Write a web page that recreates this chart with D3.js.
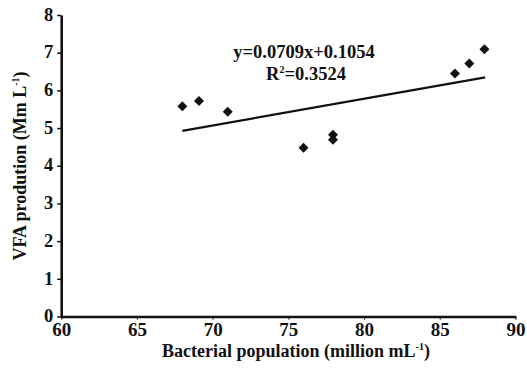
<!DOCTYPE html>
<html><head><meta charset="utf-8">
<script src="https://cdn.jsdelivr.net/npm/d3@7"></script>
<style>body{margin:0;background:#fff}svg{display:block}text{font-family:"Liberation Serif","Times New Roman",serif;font-weight:bold;fill:#111}</style>
</head><body><svg id="c" width="527" height="369"></svg>
<script>
const bacteria = [68.0, 69.1, 71.0, 76.0, 77.95, 77.95, 86.0, 86.95, 87.95];
const vfa = [5.58, 5.72, 5.43, 4.48, 4.82, 4.69, 6.45, 6.71, 7.09];
const slope = 0.0709, intercept = 0.1054;
const trendRange = [68, 88];
const xTicks = [60, 65, 70, 75, 80, 85, 90];
const yTicks = [0, 1, 2, 3, 4, 5, 6, 7, 8];

const svg = d3.select('#c');
const x = d3.scaleLinear().domain([60, 90]).range([61.2, 515.5]);
const y = d3.scaleLinear().domain([0, 8]).range([316.5, 15]);

const xa = svg.append('g').attr('transform', 'translate(0,' + y(0) + ')')
  .call(d3.axisBottom(x).tickValues(xTicks).tickSize(3).tickPadding(3).tickSizeOuter(0));
xa.select('.domain').attr('stroke', '#111').attr('stroke-width', 2.6);
xa.selectAll('line').attr('stroke', '#111').attr('stroke-width', 1.2);
xa.selectAll('text').style('font-size', '19px').attr('fill', '#111');

const ya = svg.append('g').attr('transform', 'translate(' + x(60) + ',0)')
  .call(d3.axisLeft(y).tickValues(yTicks).tickSize(4).tickPadding(4).tickSizeOuter(0));
ya.select('.domain').attr('stroke', '#111').attr('stroke-width', 2.6);
ya.selectAll('line').attr('stroke', '#111').attr('stroke-width', 1.5);
ya.selectAll('text').style('font-size', '18.5px').attr('fill', '#111').attr('dy', '0.28em');

svg.append('line')
  .attr('x1', x(trendRange[0])).attr('y1', y(slope * trendRange[0] + intercept))
  .attr('x2', x(trendRange[1])).attr('y2', y(slope * trendRange[1] + intercept))
  .attr('stroke', '#111').attr('stroke-width', 2.2);

const sym = d3.symbol().type(d3.symbolSquare).size(50);
svg.append('g').selectAll('path').data(bacteria).join('path')
  .attr('d', sym)
  .attr('transform', (d, i) => 'translate(' + x(d) + ',' + y(vfa[i]) + ') rotate(45)')
  .attr('fill', '#111');

const eq = svg.append('g');
eq.append('text').attr('x', 304).attr('y', 58).attr('text-anchor', 'middle')
  .style('font-size', '18.5px').text('y=0.0709x+0.1054');
const r = eq.append('text').attr('x', 306).attr('y', 80).attr('text-anchor', 'middle').style('font-size', '18.5px');
r.append('tspan').text('R');
r.append('tspan').attr('dy', -7).style('font-size', '10px').text('2');
r.append('tspan').attr('dy', 7).text('=0.3524');

const xl = svg.append('text').attr('x', 296).attr('y', 357).attr('text-anchor', 'middle').style('font-size', '18px');
xl.append('tspan').text('Bacterial population (million mL');
xl.append('tspan').attr('dy', -7).style('font-size', '10px').text('-1');
xl.append('tspan').attr('dy', 7).text(')');

const yl = svg.append('text').attr('transform', 'translate(26,166) rotate(-90)').attr('text-anchor', 'middle').style('font-size', '18px');
yl.append('tspan').text('VFA prodution (Mm L');
yl.append('tspan').attr('dy', -7).style('font-size', '10px').text('-1');
yl.append('tspan').attr('dy', 7).text(')');
</script></body></html>
